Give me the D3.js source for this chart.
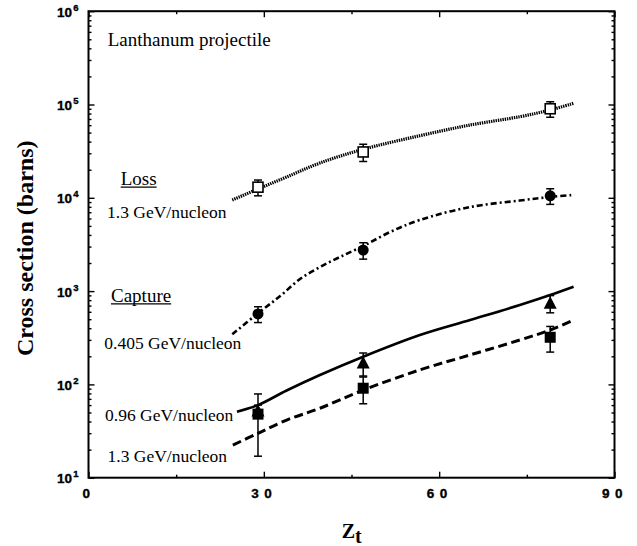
<!DOCTYPE html>
<html>
<head>
<meta charset="utf-8">
<script src="https://cdn.jsdelivr.net/npm/d3@7"></script>
<style>
  body { margin: 0; background: #fff; }
  svg { display: block; }
</style>
</head>
<body>
<svg id="chart" width="637" height="546"></svg>
<script>
// Target atomic numbers of the measured foils
const targetZ = [29, 47, 79];

// Measured cross sections (barns) with their errors
const lossHigh        = [13000, 31000, 90000];   // loss, 1.3 GeV/nucleon
const lossHighErr     = [2500, 6500, 17000];
const captureLow      = [570, 2750, 10500];      // capture, 0.405 GeV/nucleon
const captureLowErr   = [110, 550, 2000];
const captureMid      = [52, 170, 740];          // capture, 0.96 GeV/nucleon
const captureMidErr   = [8, 47, 155];
const captureHigh     = [48, 91, 320];           // capture, 1.3 GeV/nucleon
const captureHighErr  = [31, 29, 98];

// Calculated curves: Z_t grid and cross sections (barns)
const lossHighCurveZ    = [24.6, 29, 33.9, 39.6, 47, 56.7, 65.3, 73.8, 79, 83];
const lossHighCurve     = [9470, 12420, 16710, 23600, 33100, 46300, 60300, 74000, 87300, 103000];
const captureLowCurveZ  = [24.6, 29, 32.8, 36.2, 39.6, 43, 47, 51.6, 56.7, 65.3, 73.8, 79, 83];
const captureLowCurve   = [344, 578, 885, 1349, 1811, 2317, 3041, 4296, 5781, 7962, 9350, 10210, 10720];
const captureMidCurveZ  = [25.4, 29, 33.9, 39.6, 47, 56.7, 65.3, 73.8, 79, 83];
const captureMidCurve   = [51, 60, 86, 126, 198, 338, 490, 710, 908, 1114];
const captureHighCurveZ = [24.7, 29, 33.9, 39.6, 47, 56.7, 65.3, 73.8, 79, 83];
const captureHighCurve  = [22.4, 29.9, 41.5, 55.5, 87, 143, 207, 299, 383, 490];

// Axis ticks
const xMajor = [0, 30, 60, 90];
const xMinor = [15, 45, 75];
const yMajor = [1e1, 1e2, 1e3, 1e4, 1e5, 1e6];
const yExponents = ["1", "2", "3", "4", "5", "6"];
const yMinor = yMajor.slice(0, -1).flatMap(d => [2, 3, 4, 5, 6, 7, 8, 9].map(m => m * d));

const svg = d3.select("#chart");
svg.append("rect").attr("width", 637).attr("height", 546).attr("fill", "#fff");

const x = d3.scaleLinear().domain([0, 90]).range([88.5, 614.5]);
const y = d3.scaleLog().domain([10, 1e6]).range([477.7, 11.2]);
const [plotLeft, plotRight] = x.range();
const [plotBottom, plotTop] = y.range();

const SERIF = "'Liberation Serif', 'Times New Roman', serif";
const SANS = "'Liberation Sans', Arial, sans-serif";

function tidy(g) {
  g.select(".domain").remove();
  g.selectAll(".tick line").attr("stroke", "#000").attr("stroke-width", 1.4);
}

// ---- Axes (ticks point inward on all four sides) ----
const axes = [
  { gen: () => d3.axisBottom(x), t: `translate(0,${plotBottom})`, major: xMajor, minor: xMinor },
  { gen: () => d3.axisTop(x),    t: `translate(0,${plotTop})`,    major: xMajor, minor: xMinor },
  { gen: () => d3.axisLeft(y),   t: `translate(${plotLeft},0)`,   major: yMajor, minor: yMinor },
  { gen: () => d3.axisRight(y),  t: `translate(${plotRight},0)`,  major: yMajor, minor: yMinor }
];
const axisGroups = axes.map(a => {
  svg.append("g").attr("transform", a.t)
    .call(a.gen().tickValues(a.minor).tickSizeInner(-3).tickSizeOuter(0).tickFormat(""))
    .call(tidy);
  return svg.append("g").attr("transform", a.t)
    .call(a.gen().tickValues(a.major).tickSizeInner(-6).tickSizeOuter(0).tickFormat(d => d))
    .call(tidy);
});

// bottom labels
axisGroups[0].selectAll(".tick text")
  .attr("font-family", SANS).attr("font-size", 13.5).attr("font-weight", 700)
  .attr("y", 20.8).attr("dy", null)
  .attr("letter-spacing", 5.5)
  .attr("stroke", "#000").attr("stroke-width", 0.35)
  .attr("fill", "#000");
// top and right: no labels
axisGroups[1].selectAll(".tick text").remove();
axisGroups[3].selectAll(".tick text").remove();
// left labels: powers of ten
axisGroups[2].selectAll(".tick text")
  .attr("font-family", SANS).attr("font-weight", 700)
  .attr("x", -10).attr("y", 5).attr("dy", null)
  .attr("text-anchor", "end")
  .attr("fill", "#000")
  .attr("stroke", "#000").attr("stroke-width", 0.35)
  .text(null)
  .each(function (d, i) {
    const t = d3.select(this);
    t.append("tspan").attr("font-size", 13.5).text("10");
    t.append("tspan").attr("font-size", 9.5).attr("dx", 1.2).attr("dy", -6).text(yExponents[i]);
  });

// frame
svg.append("rect")
  .attr("x", plotLeft).attr("y", plotTop)
  .attr("width", plotRight - plotLeft).attr("height", plotBottom - plotTop)
  .attr("fill", "none").attr("stroke", "#000").attr("stroke-width", 2);

// ---- Calculated curves ----
const line = d3.line().x(d => x(d[0])).y(d => y(d[1])).curve(d3.curveCatmullRom.alpha(0.5));
const curves = [
  { z: lossHighCurveZ,    v: lossHighCurve,    w: 3.2, dash: "1.4,0.9" },
  { z: captureLowCurveZ,  v: captureLowCurve,  w: 2.6, dash: "6,3,2,3" },
  { z: captureMidCurveZ,  v: captureMidCurve,  w: 2.6, dash: null },
  { z: captureHighCurveZ, v: captureHighCurve, w: 3,   dash: "9,4.5" }
];
curves.forEach(c => {
  svg.append("path")
    .datum(d3.zip(c.z, c.v))
    .attr("d", line)
    .attr("fill", "none")
    .attr("stroke", "#000")
    .attr("stroke-width", c.w)
    .attr("stroke-dasharray", c.dash);
});

// ---- Measured points with error bars ----
const series = [
  { v: lossHigh,    e: lossHighErr,    shape: "openSquare" },
  { v: captureLow,  e: captureLowErr,  shape: "circle" },
  { v: captureHigh, e: captureHighErr, shape: "square" },
  { v: captureMid,  e: captureMidErr,  shape: "triangle" }
];
series.forEach(s => {
  const pts = targetZ.map((z, i) => ({ z, v: s.v[i], e: s.e[i] }));
  const g = svg.append("g");
  const bars = g.selectAll(".err").data(pts).enter().append("g")
    .attr("stroke", "#000").attr("stroke-width", 1.5);
  bars.append("line")
    .attr("x1", d => x(d.z)).attr("x2", d => x(d.z))
    .attr("y1", d => y(d.v + d.e)).attr("y2", d => y(d.v - d.e));
  bars.append("line")
    .attr("x1", d => x(d.z) - 4).attr("x2", d => x(d.z) + 4)
    .attr("y1", d => y(d.v + d.e)).attr("y2", d => y(d.v + d.e));
  bars.append("line")
    .attr("x1", d => x(d.z) - 4).attr("x2", d => x(d.z) + 4)
    .attr("y1", d => y(d.v - d.e)).attr("y2", d => y(d.v - d.e));

  const m = g.selectAll(".mark").data(pts).enter();
  if (s.shape === "openSquare") {
    m.append("rect")
      .attr("x", d => x(d.z) - 5).attr("y", d => y(d.v) - 5)
      .attr("width", 10).attr("height", 10)
      .attr("fill", "#fff").attr("stroke", "#000").attr("stroke-width", 1.6);
  } else if (s.shape === "square") {
    m.append("rect")
      .attr("x", d => x(d.z) - 5.5).attr("y", d => y(d.v) - 5.5)
      .attr("width", 11).attr("height", 11)
      .attr("fill", "#000");
  } else if (s.shape === "circle") {
    m.append("circle")
      .attr("cx", d => x(d.z)).attr("cy", d => y(d.v)).attr("r", 5.5)
      .attr("fill", "#000");
  } else {
    m.append("path")
      .attr("transform", d => `translate(${x(d.z)},${y(d.v)})`)
      .attr("d", "M0,-7L6.5,5.5L-6.5,5.5Z")
      .attr("fill", "#000");
  }
});

// ---- Annotations ----
const notes = [
  { t: "Lanthanum projectile", x: 107.7, y: 45.7, s: 19 },
  { t: "Loss",                 x: 120.7, y: 185,  s: 19, u: true },
  { t: "1.3 GeV/nucleon",      x: 107,   y: 217.5, s: 17.5 },
  { t: "Capture",              x: 111,   y: 301.7, s: 19, u: true },
  { t: "0.405 GeV/nucleon",    x: 104.3, y: 349,  s: 17.5 },
  { t: "0.96 GeV/nucleon",     x: 105,   y: 420.7, s: 17.5 },
  { t: "1.3 GeV/nucleon",      x: 107.5, y: 462.3, s: 17.5 }
];
notes.forEach(n => {
  const txt = svg.append("text")
    .attr("x", n.x).attr("y", n.y)
    .attr("font-family", SERIF).attr("font-size", n.s)
    .attr("fill", "#000").text(n.t);
  if (n.u) {
    const w = txt.node().getComputedTextLength();
    svg.append("line")
      .attr("x1", n.x).attr("x2", n.x + w)
      .attr("y1", n.y + 2.2).attr("y2", n.y + 2.2)
      .attr("stroke", "#000").attr("stroke-width", 1.2);
  }
});

// ---- Axis titles ----
svg.append("text")
  .attr("transform", "translate(33.3,248.3) rotate(-90)")
  .attr("text-anchor", "middle")
  .attr("font-family", SERIF).attr("font-weight", "bold").attr("font-size", 24)
  .attr("fill", "#000")
  .text("Cross section (barns)");

const zt = svg.append("text")
  .attr("x", 341.7).attr("y", 538.3)
  .attr("font-family", SERIF).attr("font-weight", "bold").attr("font-size", 20)
  .attr("fill", "#000");
zt.append("tspan").text("Z");
zt.append("tspan").attr("dy", 4.7).text("t");
</script>
</body>
</html>
